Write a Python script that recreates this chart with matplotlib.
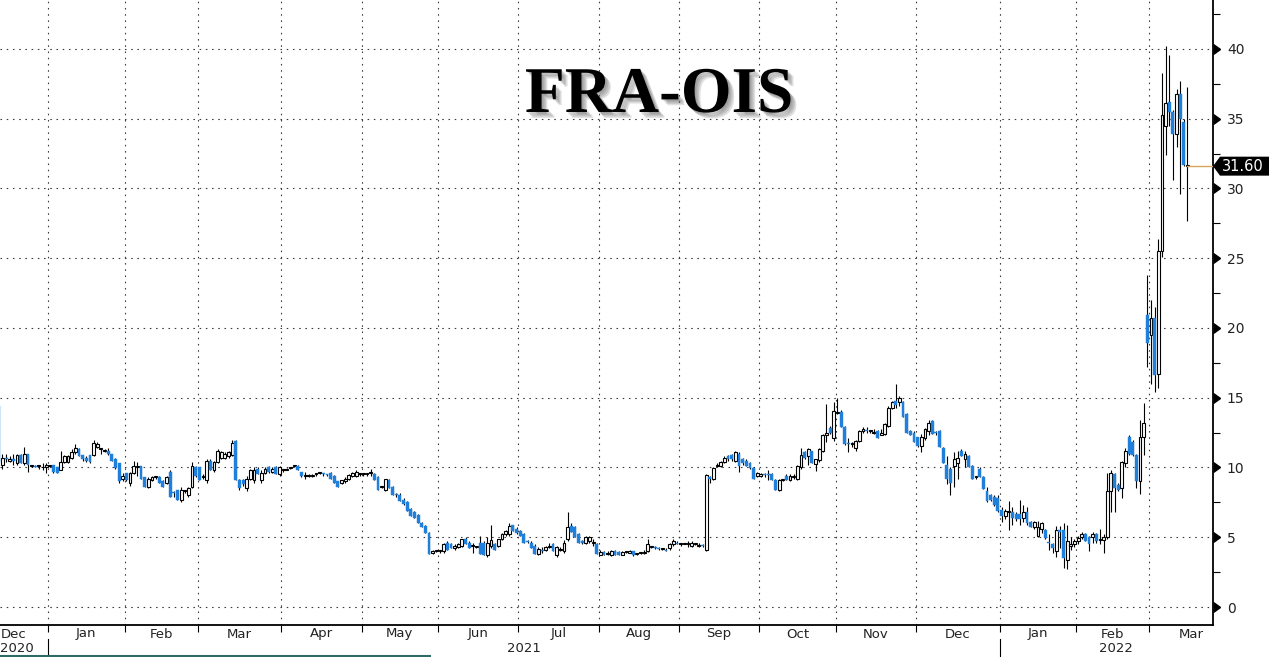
import numpy as np
import pandas as pd
import matplotlib
matplotlib.use("Agg")
import matplotlib.pyplot as plt
from matplotlib.transforms import blended_transform_factory
from matplotlib.ticker import MultipleLocator
from matplotlib.patches import Polygon
from matplotlib.lines import Line2D
import matplotlib.patheffects as pe

# ---------------- data ----------------
START, END = "2020-12-14", "2022-03-15"
TITLE = "FRA-OIS"
LAST_VALUE = 31.60
Y_TICKS = [0, 5, 10, 15, 20, 25, 30, 35, 40]

OPEN = [
    14.4,10.2,10.7,10.5,10.6,10.3,10.9,10.3,11.0,10.1,10.1,10.1,10.0,10.0,                              # Dec 20
    10.1,10.2,10.0,9.8,10.4,10.4,10.7,11.1,11.3,10.9,10.7,10.9,10.9,11.5,11.3,11.2,11.2,10.95,10.6,10.3,9.2,  # Jan 21
    9.6,8.9,9.6,10.0,10.1,9.35,8.6,9.1,9.3,9.35,9.0,8.9,9.7,8.2,8.4,7.7,8.3,8.0,8.6,10.0,                 # Feb
    10.0,9.3,9.1,10.5,9.8,10.4,10.7,10.7,10.8,10.9,11.9,9.1,9.1,8.5,9.2,9.1,9.9,9.1,9.6,10.0,9.7,10.0,9.5,  # Mar
    9.8,9.85,9.95,10.1,10.1,9.7,9.4,9.4,9.4,9.5,9.6,9.55,9.5,9.6,9.4,9.0,8.9,9.0,9.2,9.4,9.4,9.5,         # Apr
    9.5,9.5,9.6,9.5,9.3,8.6,8.4,9.1,8.6,8.1,8.0,7.7,7.5,7.0,6.8,6.6,6.05,5.8,5.3,3.9,4.0,                 # May
    4.0,4.0,4.6,4.5,4.2,4.3,4.4,4.9,4.6,4.4,4.3,4.6,4.6,3.7,4.4,4.5,4.4,4.85,5.2,5.2,5.85,5.6,            # Jun
    5.45,5.2,4.7,4.6,4.4,3.8,4.1,4.1,4.3,4.5,3.7,4.1,4.0,4.85,5.8,5.7,5.2,4.7,4.6,4.7,4.6,4.5,            # Jul
    3.75,3.95,3.8,3.7,4.0,3.95,3.75,3.95,3.9,4.0,3.8,3.85,3.9,4.0,4.3,4.25,4.2,4.15,4.1,4.2,4.5,4.6,      # Aug
    4.5,4.55,4.5,4.35,4.5,4.4,4.4,4.1,9.3,9.2,10.1,10.1,10.4,10.8,10.9,10.5,11.0,10.6,10.5,10.3,9.95,9.4, # Sep
    9.4,9.5,9.5,9.5,9.1,8.4,9.1,9.4,9.1,9.3,9.2,10.0,11.1,10.8,11.2,10.25,10.55,11.2,12.3,12.8,12.15,     # Oct
    13.9,13.95,12.9,11.7,11.7,11.4,11.9,12.6,12.7,12.6,12.5,12.6,12.3,12.4,13.0,14.3,14.8,14.7,14.66,13.8,12.6,12.5,  # Nov
    12.15,11.55,12.15,12.6,13.35,12.5,12.6,11.4,10.2,9.9,10.1,10.35,11.2,10.6,10.8,10.1,9.3,9.9,9.3,8.3,8.0,7.85,7.8,  # Dec
    6.95,6.53,6.8,6.83,6.7,6.65,6.4,6.83,6.1,5.75,5.1,5.6,5.55,4.65,4.55,4.0,5.5,5.5,3.4,4.4,4.55,       # Jan 22
    4.75,5.0,5.2,5.05,5.05,5.2,4.8,4.8,5.0,8.3,9.5,8.75,8.5,10.3,12.2,11.8,10.9,9.0,12.2,20.9,          # Feb
    19.5,20.7,16.7,25.5,34.5,36.2,35.5,33.9,36.8,34.8,31.6,                                            # Mar
]
HIGH = [
    14.5,11.0,11.0,10.8,11.0,11.0,11.0,11.5,11.0,10.2,10.2,10.2,10.3,10.3,
    10.2,10.2,10.0,11.2,10.9,10.9,11.3,11.7,11.4,10.9,10.8,10.9,12.0,11.8,11.4,11.3,11.4,11.0,10.7,10.3,9.6,
    9.6,9.7,10.5,10.4,10.1,9.35,9.3,9.4,9.4,9.4,9.1,9.4,9.8,8.3,8.4,8.6,8.4,8.6,10.4,10.1,
    10.0,9.5,10.6,10.6,10.5,11.3,11.2,11.1,11.2,12.0,12.0,9.2,9.2,9.4,9.9,10.0,10.0,9.8,10.0,10.1,10.0,10.1,10.1,
    9.9,9.95,10.05,10.2,10.2,9.7,9.7,9.5,9.5,9.6,9.7,9.6,9.55,9.7,9.45,9.0,9.1,9.3,9.5,9.7,9.85,9.6,
    9.6,9.6,9.9,9.6,9.4,8.7,9.2,9.2,8.7,8.2,8.2,7.8,7.6,7.1,6.9,6.7,6.1,5.9,5.4,4.1,4.1,
    4.1,4.6,4.7,4.6,4.5,4.6,4.9,5.0,4.7,4.6,4.4,5.1,4.7,5.0,5.9,4.6,4.9,5.3,5.5,6.0,5.9,5.7,
    5.5,5.3,4.8,4.7,4.5,4.3,4.3,4.4,4.6,4.6,4.4,4.3,4.8,6.8,6.0,5.8,5.3,4.8,5.1,5.1,4.9,4.6,
    4.1,4.0,4.0,4.1,4.1,4.0,4.0,4.05,4.1,4.05,3.9,3.95,4.1,4.9,4.4,4.35,4.3,4.25,4.2,4.6,4.9,4.7,
    4.6,4.6,4.7,4.7,4.6,4.6,4.5,9.5,9.4,10.0,10.3,10.5,10.8,10.9,11.0,11.2,11.1,10.7,10.6,10.4,10.0,9.7,
    9.6,9.6,9.8,9.6,9.2,9.2,9.2,9.5,9.5,9.5,10.2,11.4,11.2,11.4,11.2,10.6,11.4,12.4,14.55,13.0,14.7,
    15.0,14.1,12.95,12.1,11.8,12.0,12.7,12.9,12.9,12.7,12.75,12.7,12.75,13.2,14.4,14.8,16.0,15.1,14.8,13.9,12.7,12.6,
    12.2,12.4,12.8,13.4,13.4,12.6,12.7,11.5,10.8,10.0,11.1,11.2,11.3,11.2,10.9,10.2,9.4,10.0,9.4,8.6,8.1,8.0,8.0,
    7.2,7.0,7.6,7.2,6.8,7.7,7.3,7.2,6.2,6.2,6.2,6.1,5.6,5.2,4.6,5.8,5.8,6.0,5.9,5.0,4.9,
    5.1,5.4,5.3,5.1,5.4,5.3,5.6,5.2,9.6,9.8,9.6,8.9,10.5,11.4,12.3,12.0,11.0,13.4,14.6,23.8,
    22.0,21.5,26.4,38.3,40.2,39.6,35.6,37.1,37.7,35.0,37.3,
]
LOW = [
    10.0,9.9,10.4,10.4,10.2,10.2,10.3,10.2,9.7,10.0,10.0,9.9,9.8,9.6,
    10.0,9.6,9.6,9.8,10.3,10.3,10.6,11.0,10.8,10.5,10.4,10.3,10.8,11.4,11.0,11.1,10.9,10.5,9.9,8.9,9.0,
    9.0,8.7,9.5,9.4,9.2,8.6,8.5,9.0,9.2,8.9,8.6,8.8,7.9,7.9,7.7,7.5,8.2,7.9,8.5,9.3,
    9.1,9.2,8.9,9.8,9.7,10.3,10.6,10.6,10.7,10.8,9.1,8.4,8.7,8.3,9.1,8.9,9.5,8.9,9.5,9.6,9.6,9.5,9.4,
    9.7,9.8,9.9,10.0,9.8,9.3,9.2,9.3,9.3,9.4,9.5,9.4,9.4,9.2,8.9,8.6,8.8,8.9,9.1,9.3,9.3,9.4,
    9.4,9.4,9.4,9.1,8.4,8.5,8.3,8.5,8.0,7.9,7.6,7.3,6.9,6.5,6.4,6.05,5.7,5.3,3.8,3.8,3.95,
    3.9,3.9,4.1,4.2,4.1,4.2,4.3,4.5,4.2,3.9,4.2,3.8,3.7,3.6,4.2,4.1,4.3,4.8,5.1,5.1,5.45,5.25,
    5.1,4.6,4.6,4.25,3.8,3.7,3.9,4.0,4.2,4.0,3.6,4.0,3.9,4.7,5.35,5.0,4.6,4.5,4.5,4.6,4.4,3.8,
    3.7,3.7,3.7,3.65,3.7,3.7,3.7,3.85,3.85,3.65,3.75,3.8,3.8,3.95,4.2,4.15,4.1,4.1,4.0,4.1,4.4,4.5,
    4.4,4.5,4.3,4.3,4.45,4.3,4.3,4.0,8.9,9.1,10.0,10.0,10.3,10.5,10.5,10.4,9.7,10.2,10.1,9.9,9.2,9.3,
    9.3,9.3,9.1,9.1,8.4,8.3,9.0,9.1,9.0,9.2,9.1,9.9,10.6,10.2,10.35,9.75,10.4,11.1,11.8,12.4,11.9,
    13.8,12.87,11.6,11.1,11.5,11.2,11.8,12.5,12.5,12.5,12.4,12.1,12.3,12.3,12.9,14.2,14.3,14.4,13.6,12.5,12.3,11.8,
    11.45,11.1,12.0,12.3,12.4,12.3,11.45,10.35,8.8,8.0,8.6,9.2,10.85,10.0,10.0,9.15,9.2,9.3,8.45,7.5,7.6,7.25,6.8,
    6.1,6.3,5.5,5.9,6.2,5.9,6.1,5.9,5.7,5.6,5.0,5.3,4.9,4.1,3.9,3.6,4.2,2.8,2.7,4.1,4.3,
    4.5,4.9,4.7,4.0,4.6,4.6,4.5,3.9,4.9,6.8,6.8,8.3,7.8,10.0,10.9,10.8,8.5,8.1,10.9,17.2,
    16.0,15.4,15.7,25.1,32.4,34.5,30.6,33.0,29.6,31.6,27.7,
]
CLOSE = [
    10.4,10.7,10.6,10.6,10.5,10.9,10.3,11.0,10.2,10.1,10.0,10.1,10.05,10.2,
    10.1,9.7,9.6,10.4,10.8,10.85,11.1,11.4,10.8,10.6,10.5,10.4,11.75,11.7,11.3,11.2,10.95,10.5,9.95,9.0,9.4,
    9.1,9.6,10.1,10.1,9.2,8.6,9.2,9.3,9.35,8.9,8.6,9.35,7.9,8.15,7.7,8.4,8.35,8.5,10.1,9.4,
    9.1,9.4,10.5,9.8,10.4,11.2,11.1,11.0,11.1,11.75,9.1,8.5,8.8,9.2,9.8,9.8,9.5,9.6,9.9,9.7,9.9,9.5,10.0,
    9.8,9.9,10.0,10.1,9.8,9.4,9.4,9.4,9.4,9.55,9.65,9.5,9.45,9.2,8.9,8.6,9.1,9.2,9.45,9.6,9.7,9.5,
    9.5,9.5,9.6,9.1,8.4,8.6,9.2,8.5,8.0,8.05,7.6,7.4,6.9,6.5,6.4,6.05,5.7,5.3,3.8,4.0,4.0,
    4.05,4.55,4.1,4.2,4.4,4.5,4.85,4.5,4.25,4.4,4.35,3.8,3.7,4.6,4.8,4.1,4.85,5.2,5.45,5.8,5.45,5.3,
    5.1,4.6,4.65,4.25,3.8,4.15,4.0,4.3,4.4,4.0,4.3,4.1,4.6,5.7,5.35,5.0,4.6,4.6,5.0,5.0,4.6,3.8,
    3.95,3.7,3.85,4.0,3.7,3.75,3.95,3.95,4.05,3.7,3.85,3.9,3.95,4.55,4.3,4.2,4.15,4.15,4.05,4.55,4.75,4.55,
    4.5,4.55,4.5,4.6,4.5,4.4,4.35,9.45,9.2,9.95,10.2,10.4,10.7,10.6,10.6,11.1,10.1,10.3,10.1,9.95,9.2,9.6,
    9.5,9.45,9.45,9.1,8.4,9.1,9.15,9.1,9.4,9.4,10.1,10.9,10.7,11.3,10.35,10.6,11.3,12.3,12.5,12.5,14.07,
    14.0,12.87,11.7,11.65,11.7,11.9,12.6,12.75,12.65,12.6,12.5,12.15,12.5,13.1,14.3,14.66,14.5,15.0,13.6,12.5,12.3,11.8,
    11.55,12.15,12.75,13.2,12.4,12.45,11.45,10.35,9.15,8.9,10.6,10.7,10.85,10.95,10.0,9.15,9.3,9.3,8.45,7.6,7.65,7.3,6.85,
    6.55,6.88,6.85,6.35,6.3,6.3,6.83,6.0,5.7,6.1,5.75,6.0,4.95,4.6,4.2,5.5,5.4,3.5,4.7,4.55,4.75,
    4.95,5.2,4.75,4.55,5.2,4.75,4.8,5.05,8.3,9.6,8.55,8.4,10.4,11.15,11.0,10.9,9.0,12.2,13.2,18.9,
    20.7,16.6,25.5,35.3,36.1,35.5,33.9,36.8,35.0,31.7,31.6,
]

# ---------------- layout ----------------
W, H = 1269, 657
fig = plt.figure(figsize=(W / 100, H / 100), dpi=100)
fig.patch.set_facecolor("white")
AX_RIGHT_PX, AX_BOTTOM_PX = 1213, 625
ax = fig.add_axes([0, (H - AX_BOTTOM_PX) / H, AX_RIGHT_PX / W, AX_BOTTOM_PX / H])
ax.set_facecolor("white")

dates = pd.bdate_range(START, END)
n = min(len(dates), len(OPEN), len(HIGH), len(LOW), len(CLOSE))
o = np.array(OPEN[:n]); h = np.array(HIGH[:n]); l = np.array(LOW[:n]); c = np.array(CLOSE[:n])
x = np.arange(n)

XLIM = (0.33, 333.0)
YLIM = (-1.29, 43.51)
ax.set_xlim(*XLIM)
ax.set_ylim(*YLIM)

BLUE = "#1f7fdb"
up = c >= o
bottom = np.minimum(o, c)
height = np.maximum(np.abs(c - o), 0.07)

ax.vlines(x, l, h, color="black", lw=0.8, zorder=3)
ax.bar(x[up], height[up], bottom=bottom[up], width=0.78, facecolor="white",
       edgecolor="black", linewidth=0.8, zorder=4)
ax.bar(x[~up], height[~up], bottom=bottom[~up], width=0.78, facecolor=BLUE,
       edgecolor=BLUE, linewidth=0.3, zorder=4)

# ---------------- month geometry ----------------
full = pd.bdate_range("2020-12-01", "2022-03-31")
off = full.get_loc(pd.Timestamp(START))
pos = np.arange(len(full)) - off
per = full.to_period("M")
months = list(dict.fromkeys(per))
bounds, centers, labels = [], [], []
for m in months:
    p = pos[per == m]
    centers.append(p.mean())
    labels.append(m.strftime("%b"))
    if p[0] > 0:
        bounds.append(p[0] - 0.5)

GRID = dict(color="#3a3a3a", lw=0.8, ls=(0, (1.4, 4.2)))
for yv in Y_TICKS:
    ax.axhline(yv, zorder=1, **GRID)
for b in bounds:
    ax.axvline(b, zorder=1, **GRID)

# spines
for s in ["left", "top"]:
    ax.spines[s].set_visible(False)
for s in ["right", "bottom"]:
    ax.spines[s].set_color("black")
    ax.spines[s].set_linewidth(1.3)

# x ticks: small marks at month boundaries
ax.set_xticks(bounds)
ax.tick_params(axis="x", length=5, width=0.8, direction="out", labelbottom=False, color="black")

# y axis on the right
ax.yaxis.tick_right()
ax.set_yticks(Y_TICKS)
ax.set_yticklabels([str(v) for v in Y_TICKS])
ax.yaxis.set_minor_locator(MultipleLocator(2.5))
ax.tick_params(axis="y", which="major", length=0, pad=10, labelsize=10, labelcolor="#222222")
ax.tick_params(axis="y", which="minor", length=5, width=0.8, direction="out", color="black")
tr_ay = blended_transform_factory(ax.transAxes, ax.transData)
ax.plot(np.ones(len(Y_TICKS)), Y_TICKS, ls="none", marker=9, markersize=7,
        color="black", transform=tr_ay, clip_on=False, zorder=6)

# month + year labels
tr_xf = blended_transform_factory(ax.transData, fig.transFigure)
y_month = 1 - 634 / H
y_year = 1 - 649 / H
for cen, lab in zip(centers, labels):
    if cen < XLIM[0] + 4:
        ax.text(XLIM[0] + 0.2, y_month, lab, transform=tr_xf, ha="left", va="center",
                fontsize=9.5, color="#222222", clip_on=False)
    else:
        ax.text(cen, y_month, lab, transform=tr_xf, ha="center", va="center",
                fontsize=9.5, color="#222222", clip_on=False)

years = per.year
year_bounds = []
for yr in sorted(set(years)):
    p = pos[years == yr]
    if yr == 2020:
        cen = 4.9
    else:
        cen = p.mean()
        year_bounds.append(p[0] - 0.5)
    ax.text(cen, y_year, str(yr), transform=tr_xf, ha="center", va="center",
            fontsize=9.5, color="#222222", clip_on=False)
for b in year_bounds:
    fig.add_artist(Line2D([b, b], [1 - 639 / H, 0], transform=tr_xf, color="black", lw=0.8))

# thin band at the very bottom-left
fig.add_artist(Line2D([0, 430 / W], [1.5 / H, 1.5 / H], transform=fig.transFigure,
                      color="#2e6b67", lw=1.5))

# last value marker
ax.plot([x[-1], XLIM[1]], [LAST_VALUE, LAST_VALUE], color="#d9a55b", lw=1.0, zorder=5)
hh = 0.68
x0 = 1.0
x1 = 1.0 + 7 / AX_RIGHT_PX
x2 = W / AX_RIGHT_PX + 0.01
box = Polygon([[x0, LAST_VALUE], [x1, LAST_VALUE + hh], [x2, LAST_VALUE + hh],
               [x2, LAST_VALUE - hh], [x1, LAST_VALUE - hh]], closed=True,
              transform=tr_ay, facecolor="black", edgecolor="none", clip_on=False, zorder=7)
ax.add_patch(box)
ax.text(1.0 + 9 / AX_RIGHT_PX, LAST_VALUE, f"{LAST_VALUE:.2f}", transform=tr_ay,
        ha="left", va="center", fontsize=10.5, color="white", zorder=8, clip_on=False)

# title with soft drop shadow
shadow = [pe.SimplePatchShadow(offset=(d, -d), shadow_rgbFace="#555555", alpha=0.18)
          for d in (1.2, 2.2, 3.2, 4.2)]
fig.text(659 / W, 1 - 112 / H, TITLE, ha="center", va="baseline", fontsize=47,
         fontweight="bold", family=["Liberation Serif", "DejaVu Serif"], color="black",
         path_effects=shadow + [pe.Normal()], zorder=10)

fig.savefig("out.png", dpi=100, facecolor="white")
